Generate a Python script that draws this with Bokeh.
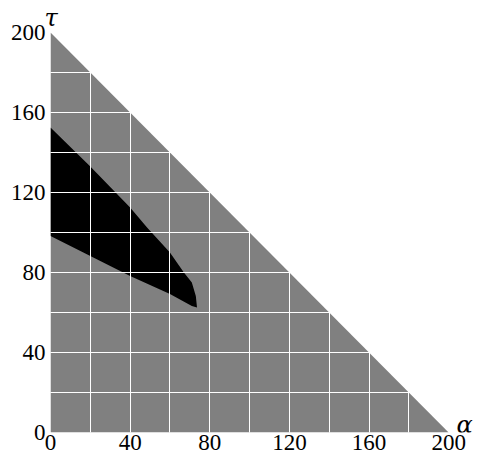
from bokeh.plotting import figure
from bokeh.models import Range1d, FixedTicker, Label, Title
from bokeh.embed import file_html
from bokeh.resources import INLINE

# Feasible region (triangle alpha + tau <= 200)
region_alpha = [0, 200, 0]
region_tau = [0, 0, 200]

# Black region boundaries
upper_alpha = [0, 20, 40, 48.5, 60, 67, 71, 73, 73.6]
upper_tau = [152.5, 133, 112.5, 102.5, 90, 80, 75, 68.3, 62.5]
lower_alpha = [73.6, 71, 60, 40, 20, 0]
lower_tau = [62.5, 63.3, 69.2, 78.3, 88.3, 98.3]

label_ticks = [0, 40, 80, 120, 160, 200]
grid_ticks = [20, 40, 60, 80, 100, 120, 140, 160, 180]

black_alpha = upper_alpha + lower_alpha
black_tau = upper_tau + lower_tau

p = figure(frame_width=430, frame_height=400,
           x_range=Range1d(0, 216), y_range=Range1d(0, 200),
           output_backend="svg", toolbar_location=None,
           min_border_left=50, min_border_right=3,
           min_border_top=30, min_border_bottom=28)
p.outline_line_color = None
p.background_fill_color = "white"
p.border_fill_color = "white"

p.patch(region_alpha, region_tau, fill_color="#808080", line_color=None)
p.patch(black_alpha, black_tau, fill_color="black", line_color=None)

for g in (p.xgrid[0], p.ygrid[0]):
    g.ticker = FixedTicker(ticks=grid_ticks)
    g.grid_line_color = "white"
    g.grid_line_width = 1
    g.level = "overlay"

for ax in (p.xaxis[0], p.yaxis[0]):
    ax.ticker = FixedTicker(ticks=label_ticks)
    ax.axis_line_color = None
    ax.major_tick_line_color = None
    ax.minor_tick_line_color = None
    ax.major_tick_out = 0
    ax.major_tick_in = 0
    ax.minor_tick_out = 0
    ax.major_label_text_font = "Liberation Serif"
    ax.major_label_text_font_size = "23px"
    ax.major_label_text_color = "black"
p.yaxis[0].major_label_standoff = 5
p.xaxis[0].major_label_standoff = 2

p.add_layout(Title(text="τ", align="left", offset=-6, standoff=2,
                   text_font="DejaVu Serif", text_font_style="italic",
                   text_font_size="24px", text_color="black"), "above")
p.add_layout(Label(x=208, y=4, text="α", text_font="DejaVu Serif",
                   text_font_style="italic", text_font_size="24px",
                   text_align="center", text_baseline="middle", text_color="black"))

open("out.html", "w").write(file_html(p, INLINE))
